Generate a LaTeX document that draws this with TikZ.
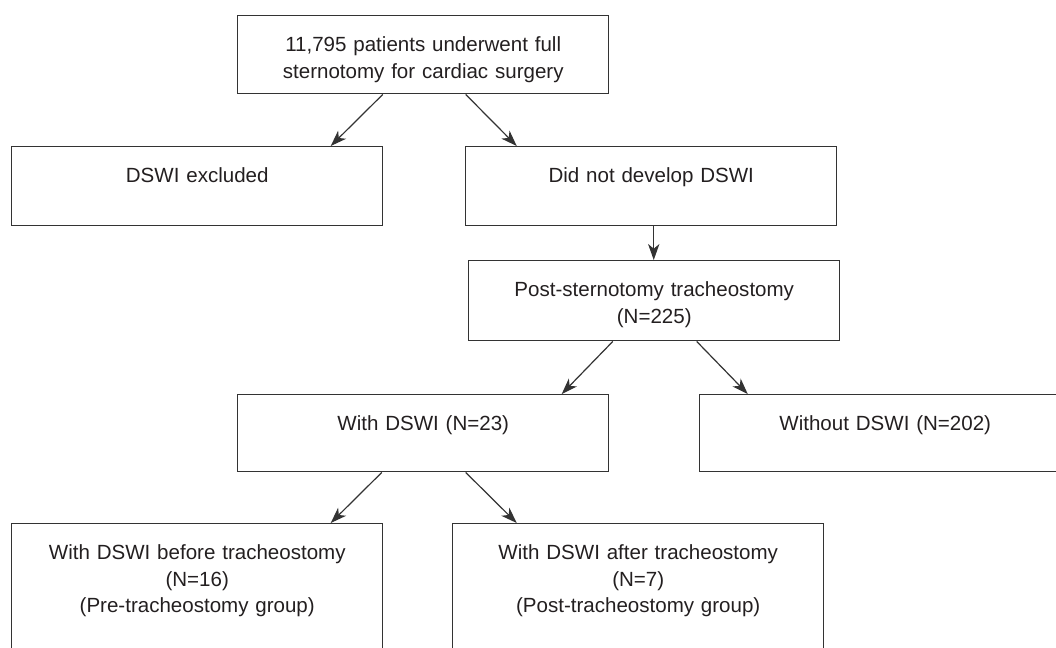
\documentclass[tikz,border=0pt]{standalone}
\usepackage{fontspec}
\setmainfont{Liberation Sans}
\usetikzlibrary{positioning,calc,arrows.meta}
\definecolor{boxline}{HTML}{333333}
\definecolor{boxtext}{HTML}{231F20}
\tikzstyle{stage} = [draw=boxline, line width=1.1pt, text=boxtext, anchor=north west, inner sep=0pt, text width=278.25pt, align=center, text height=27pt, font=\fontsize{15.4}{19.8}\selectfont]
\tikzstyle{arrow} = [line width=0.9pt, draw=boxline, -{Stealth[length=12pt,width=8.5pt,inset=3.5pt]}]

\begin{document}
\begin{tikzpicture}[x=0.75pt,y=-0.75pt]
      \useasboundingbox (0,0) rectangle (1056,647);
      \clip (0,0) rectangle (1056,647);
      % boxes
      \draw (237,15) node (top) [stage, text depth=31.5pt] {11,795 patients underwent full\\ sternotomy for cardiac surgery};
      \draw (11,146) node (excl) [stage, text depth=32.25pt] {DSWI excluded};
      \draw (465,146) node (nodev) [stage, text depth=32.25pt] {Did not develop DSWI};
      \draw (468,260) node (trach) [stage, text depth=33pt] {Post-sternotomy tracheostomy\\ (N=225)};
      \draw (237,394) node (dswi) [stage, text depth=30.75pt] {With DSWI (N=23)};
      \draw (699,394) node (nodswi) [stage, text depth=30.75pt] {Without DSWI (N=202)};
      \draw (11,523) node (pre) [stage, text depth=78pt] {With DSWI before tracheostomy\\ (N=16)\\ (Pre-tracheostomy group)};
      \draw (452,523) node (post) [stage, text depth=78pt] {With DSWI after tracheostomy\\ (N=7)\\ (Post-tracheostomy group)};
      % arrows
      \draw[arrow] ($(top.south)+(-40.5,0)$) -- ($(excl.north)+(133.5,0)$);
      \draw[arrow] ($(top.south)+(42.5,0)$) -- ($(nodev.north)+(-134.5,0)$);
      \draw[arrow] ($(nodev.south)+(2.5,0)$) -- ($(trach.north)+(-0.5,0)$);
      \draw[arrow] ($(trach.south)+(-41.5,0)$) -- ($(dswi.north)+(138.5,0)$);
      \draw[arrow] ($(trach.south)+(42.5,0)$) -- ($(nodswi.north)+(-137.5,0)$);
      \draw[arrow] ($(dswi.south)+(-41.5,0)$) -- ($(pre.north)+(133.5,0)$);
      \draw[arrow] ($(dswi.south)+(42.5,0)$) -- ($(post.north)+(-121.5,0)$);
\end{tikzpicture}
\end{document}
